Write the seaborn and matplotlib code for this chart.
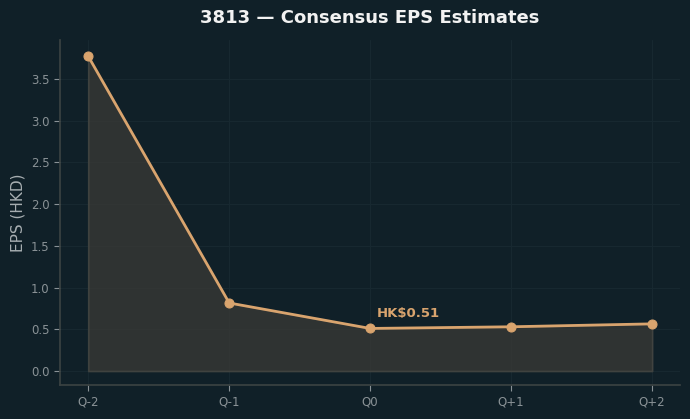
import matplotlib
matplotlib.use("Agg")
import matplotlib.pyplot as plt
import seaborn as sns
import numpy as np

quarters = ["Q-2", "Q-1", "Q0", "Q+1", "Q+2"]
eps = [3.77, 0.815, 0.51, 0.53, 0.565]
label_text = "HK$0.51"

bg = "#102028"
line_c = "#d9a46e"
sns.set_theme(style="dark")
plt.rcParams['font.family'] = ['DejaVu Sans']

fig, ax = plt.subplots(figsize=(6.9, 4.19), dpi=100)
fig.patch.set_facecolor(bg)
ax.set_facecolor(bg)

x = np.arange(len(quarters))
ax.fill_between(x, eps, 0, color="#3a3a36", alpha=0.75, edgecolor="#4a4a45", linewidth=1.2)
sns.lineplot(x=x, y=eps, ax=ax, color=line_c, linewidth=2, marker="o", markersize=6.5,
             markeredgecolor=line_c)
ax.annotate(label_text, (2, eps[2]), xytext=(5, 6), textcoords="offset points",
            color=line_c, fontsize=9.5, fontweight="bold", ha="left", va="bottom")

ax.set_xticks(x)
ax.set_xticklabels(quarters)
ax.set_xlim(-0.2, 4.2)
ax.set_ylim(-0.168, 3.967)
ax.set_yticks(np.arange(0, 3.6, 0.5))
ax.grid(True, color="#172830", linewidth=0.8)
for s in ["top", "right"]:
    ax.spines[s].set_visible(False)
for s in ["left", "bottom"]:
    ax.spines[s].set_visible(True)
    ax.spines[s].set_color("#3a4242")
ax.tick_params(colors="#8a9296", labelsize=8.5, length=4, width=0.8, direction="out",
               bottom=True, left=True)
ax.set_ylabel("EPS (HKD)", color="#a7aeb1", fontsize=11)
ax.set_xlabel("")
ax.set_title("3813 — Consensus EPS Estimates", color="#f2f2f2", fontsize=13,
             fontweight="bold", pad=12)
fig.subplots_adjust(left=0.087, right=0.986, top=0.905, bottom=0.081)
fig.savefig("out.png", dpi=100, facecolor=bg)
